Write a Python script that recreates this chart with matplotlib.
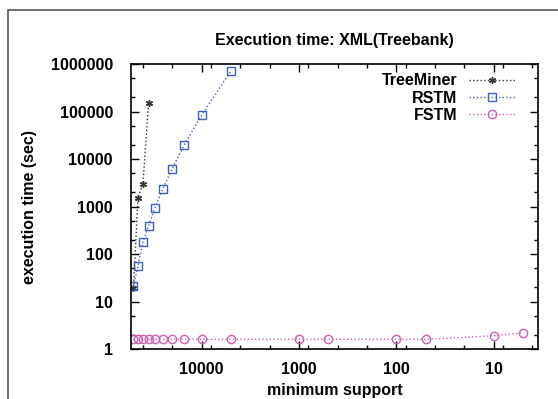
import matplotlib
matplotlib.use("Agg")
import matplotlib.pyplot as plt
from matplotlib.ticker import LogLocator, FixedLocator, NullFormatter
from matplotlib.patches import Rectangle

plt.rcParams['font.family'] = ['Liberation Sans', 'DejaVu Sans']
plt.rcParams['font.weight'] = 'bold'

# minimum support values (x) and execution times in seconds (y)
support = [50000, 45000, 40000, 35000, 30000, 25000, 20000, 15000,
           10000, 5000, 1000, 500, 100, 50, 10, 5]

treeminer_support = [50000, 45000, 40000, 35000]
treeminer_time = [19, 1530, 2930, 148000]

rstm_support = [50000, 45000, 40000, 35000, 30000, 25000, 20000, 15000, 10000, 5000]
rstm_time = [21, 56, 176, 395, 944, 2335, 6300, 20000, 83000, 710000]

fstm_time = [1.6, 1.6, 1.6, 1.6, 1.6, 1.6, 1.6, 1.6,
             1.6, 1.6, 1.6, 1.6, 1.6, 1.6, 1.9, 2.2]

x_ticks = [10000, 1000, 100, 10]
y_ticks = [1, 10, 100, 1000, 10000, 100000, 1000000]

fig = plt.figure(figsize=(5.58, 3.99), dpi=100)
ax = fig.add_axes([0.2348, 0.1253, 0.7294, 0.7143])

# grey frame around the figure (only top/left visible in the original)
fig.patches.append(Rectangle((8 / 558, -0.1), 1.2, 1 - 10 / 399 + 0.1,
                             transform=fig.transFigure, fill=False,
                             edgecolor='#555555', linewidth=1.2))

ax.plot(treeminer_support, treeminer_time, linestyle=':', linewidth=1,
        color='#333333', marker=(6, 2, 0), markersize=5, label='TreeMiner')
ax.plot(rstm_support, rstm_time, linestyle=':', linewidth=1,
        color='#3f5fc0', marker='s', markersize=6, fillstyle='none',
        markeredgewidth=1, label='RSTM')
ax.plot(support, fstm_time, linestyle=':', linewidth=1,
        color='#cc5fb0', marker='o', markersize=6, fillstyle='none',
        markeredgewidth=1, label='FSTM')

ax.set_xscale('log')
ax.set_yscale('log')
ax.set_xlim(53000, 3.5)
ax.set_ylim(1, 1000000)

ax.xaxis.set_major_locator(FixedLocator(x_ticks))
ax.set_xticklabels([str(v) for v in x_ticks])
ax.xaxis.set_minor_locator(LogLocator(base=10, subs=(2, 4, 8)))
ax.xaxis.set_minor_formatter(NullFormatter())
ax.yaxis.set_major_locator(FixedLocator(y_ticks))
ax.set_yticklabels([str(v) for v in y_ticks])
ax.yaxis.set_minor_locator(LogLocator(base=10, subs=(2, 5)))
ax.yaxis.set_minor_formatter(NullFormatter())

ax.tick_params(which='both', direction='in', top=True, right=True, width=1)
ax.tick_params(which='major', length=6, labelsize=11.5, pad=13)
ax.tick_params(axis='x', which='major', pad=9)
ax.tick_params(which='minor', length=3)
for lab in ax.get_xticklabels() + ax.get_yticklabels():
    lab.set_fontweight('bold')
for s in ax.spines.values():
    s.set_linewidth(1.2)

ax.set_title('Execution time: XML(Treebank)', fontsize=11.5,
             fontweight='bold', pad=14)
ax.set_xlabel('minimum support', fontsize=11.5, fontweight='bold', labelpad=5)
ax.set_ylabel('execution time (sec)', fontsize=11.5, fontweight='bold', labelpad=10)

ax.legend(loc='upper right', frameon=False, markerfirst=False,
          fontsize=11.5, handlelength=2.9, handletextpad=0.75,
          labelspacing=0.15, borderaxespad=0.3, borderpad=0.1,
          bbox_to_anchor=(0.96, 0.99))

fig.savefig('out.png', dpi=100)
